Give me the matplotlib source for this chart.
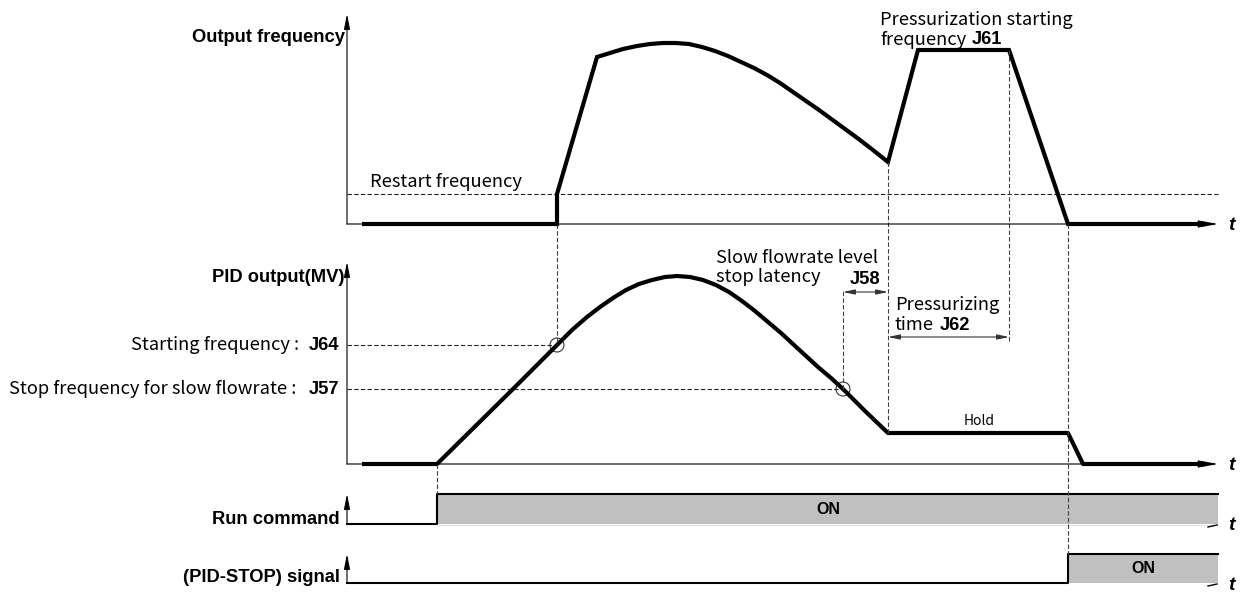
import numpy as np
import matplotlib.pyplot as plt
from matplotlib.patches import Circle

# --- data (time in diagram units, levels measured upward from each panel's baseline) ---
t_out = [362, 557, 557, 597, 610, 623, 637, 650, 663, 676, 689, 702, 715, 728, 741, 754,
         767, 780, 793, 806, 819, 832, 845, 858, 871, 888, 918, 1009, 1068, 1205]
f_out = [0, 0, 30, 167, 171, 175, 178, 180, 181, 181, 180, 177, 173, 168, 162, 156,
         149, 141, 132, 123, 114, 104.5, 95, 85.5, 75.5, 62, 174, 174, 0, 0]
restart_level = 30

t_pid = [362, 437, 513, 540, 557, 572, 587, 600, 613, 626, 639, 652, 665, 677, 690, 703,
         716, 729, 742, 755, 768, 781, 794, 806, 818, 831, 843, 865, 888, 1068, 1083, 1205]
mv_pid = [0, 0, 75, 102, 119, 134, 147, 157, 166, 174, 180, 184, 187, 188, 187, 184,
          179, 172, 163, 153, 142, 131, 119, 108, 97, 86, 75, 53, 31, 31, 0, 0]
j64_level = 119
j57_level = 75
t_j64 = 557      # PID output crosses J64
t_j57 = 843      # PID output crosses J57
t_hold = 888     # hold starts / pressurization starts
t_press_end = 1009
t_pid_stop = 1068

run_on = (437, 1218)
stop_on = (1068, 1218)

# --- layout ---
W, H = 1243, 594
x0 = 347          # vertical axes position
x_end = 1218
base_out, top_out = 224, 14
base_pid, top_pid = 464, 262
base_run, top_run = 524, 494
base_stop, top_stop = 583, 554

fig = plt.figure(figsize=(W / 100, H / 100), dpi=100)
ax = fig.add_axes([0, 0, 1, 1])
ax.set_xlim(0, W)
ax.set_ylim(H, 0)
ax.axis('off')

REG = 'Noto Sans CJK JP'
BOLD = 'Liberation Sans'
FS = 13.2
dash = (0, (4, 2))
thin = 0.8
thick = 3.0


def yaxis(base, top):
    ax.annotate('', xy=(x0, top), xytext=(x0, base),
                arrowprops=dict(arrowstyle='-|>,head_length=0.9,head_width=0.18',
                                lw=thin, color='k', shrinkA=0, shrinkB=0))


def tlabel(y):
    ax.text(1228, y, 't', fontsize=14, fontweight='bold', fontstyle='italic',
            family=BOLD, va='center', ha='left')


def taxis(base):
    ax.annotate('', xy=(x_end, base), xytext=(x0, base),
                arrowprops=dict(arrowstyle='-|>,head_length=1.2,head_width=0.22',
                                lw=thin, color='k', shrinkA=0, shrinkB=0))
    tlabel(base + 1)


def vdash(x, y1, y2):
    ax.plot([x, x], [y1, y2], color='0.25', lw=thin, ls=dash)


def hdash(y, xa, xb):
    ax.plot([xa, xb], [y, y], color='0.15', lw=thin, ls=dash)


def dim_arrow(xa, xb, y):
    ax.annotate('', xy=(xb, y), xytext=(xa, y),
                arrowprops=dict(arrowstyle='<|-|>,head_length=0.7,head_width=0.15',
                                lw=thin, color='0.2', shrinkA=0, shrinkB=0))


def reg(x, y, s, ha='left', size=FS):
    return ax.text(x, y, s, fontsize=size, family=REG, ha=ha, va='center')


def bold(x, y, s, ha='left', size=FS):
    return ax.text(x, y, s, fontsize=size, fontweight='bold', family=BOLD, ha=ha, va='center')


def bold_after(txt, s, gap=4):
    # bold code placed right after a regular text
    return ax.annotate(s, xy=(1, 0.5), xycoords=txt, xytext=(gap, 0),
                       textcoords='offset points', fontsize=FS, fontweight='bold',
                       family=BOLD, ha='left', va='center')


def reg_before(txt, s, gap=7):
    return ax.annotate(s, xy=(0, 0.5), xycoords=txt, xytext=(-gap, 0),
                       textcoords='offset points', fontsize=FS, family=REG,
                       ha='right', va='center')


# --- Output frequency panel ---
yaxis(base_out, top_out)
taxis(base_out)
hdash(base_out - restart_level, x0, 1220)
ax.plot(t_out, [base_out - v for v in f_out], color='k', lw=thick,
        solid_joinstyle='miter', solid_capstyle='butt')
bold(345, 38, 'Output frequency', ha='right')
reg(370, 182, 'Restart frequency')
reg(880, 20, 'Pressurization starting')
bold_after(reg(880, 40, 'frequency'), 'J61')

# --- PID output panel ---
yaxis(base_pid, top_pid)
taxis(base_pid)
hdash(base_pid - j64_level, x0, t_j64)
hdash(base_pid - j57_level, x0, t_j57)
ax.plot(t_pid, [base_pid - v for v in mv_pid], color='k', lw=thick,
        solid_joinstyle='round', solid_capstyle='butt')
for tc, lv in [(t_j64, j64_level), (t_j57, j57_level)]:
    ax.add_patch(Circle((tc, base_pid - lv), 7, fill=False, lw=thin, color='0.2'))

bold(345, 278, 'PID output(MV)', ha='right')
reg_before(bold(339, base_pid - j64_level, 'J64', ha='right'), 'Starting frequency :')
reg_before(bold(339, base_pid - j57_level, 'J57', ha='right'),
           'Stop frequency for slow flowrate :', gap=9)

reg(716, 258, 'Slow flowrate level')
reg(716, 277, 'stop latency')
bold(865, 279, 'J58', ha='center')
dim_arrow(t_j57, t_hold, 292)
reg(895, 305, 'Pressurizing')
bold_after(reg(895, 325, 'time'), 'J62')
dim_arrow(t_hold, t_press_end, 337)
reg(979, 421, 'Hold', ha='center', size=10)

# --- Run command panel ---
yaxis(base_run, top_run)
ax.fill_between(run_on, base_run, top_run, color='#c0c0c0', lw=0)
ax.plot([x0, run_on[0], run_on[0], run_on[1]], [base_run, base_run, top_run, top_run],
        color='k', lw=1.5)
ax.plot(run_on, [base_run + 0.5] * 2, color='#e4e4e4', lw=1)
bold(828, (base_run + top_run) / 2, 'ON', ha='center', size=11.5)
bold(340, 519, 'Run command', ha='right')
ax.plot([1208, 1217], [base_run + 3, base_run + 1], color='k', lw=1)
tlabel(base_run + 2)

# --- PID-STOP panel ---
yaxis(base_stop, top_stop)
ax.fill_between(stop_on, base_stop, top_stop, color='#c0c0c0', lw=0)
ax.plot([x0, stop_on[0], stop_on[0], stop_on[1]], [base_stop, base_stop, top_stop, top_stop],
        color='k', lw=1.5)
bold((stop_on[0] + stop_on[1]) / 2, (base_stop + top_stop) / 2, 'ON', ha='center', size=11.5)
bold(340, 578, '(PID-STOP) signal', ha='right')
ax.plot([1208, 1217], [base_stop + 3, base_stop + 1], color='k', lw=1)
tlabel(base_stop + 2)

# --- vertical timing guides ---
vdash(t_out[1], base_out, base_pid - j64_level)
vdash(run_on[0], base_pid, top_run)
vdash(t_j57, base_pid - j57_level, 290)
vdash(t_hold, base_out - f_out[25], base_pid - mv_pid[28])
vdash(t_press_end, base_out - f_out[27], 343)
vdash(t_pid_stop, base_out, top_stop)

fig.savefig('out.png', dpi=100)
